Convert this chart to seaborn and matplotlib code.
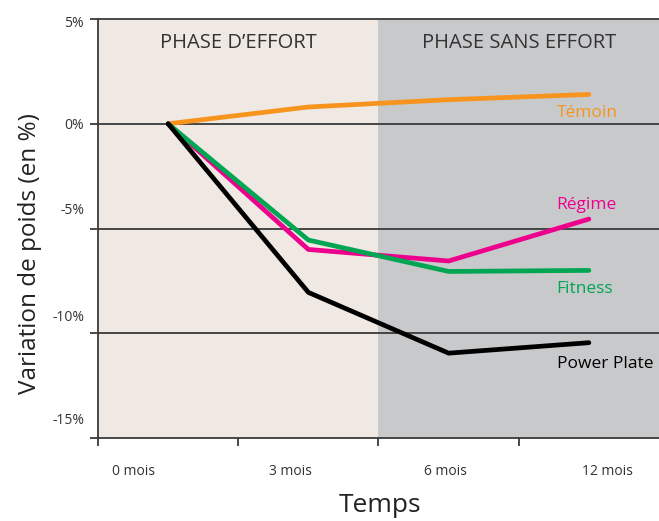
import numpy as np
import pandas as pd
import matplotlib.pyplot as plt
import matplotlib.transforms as mtransforms
import seaborn as sns

# Data
months = ["0 mois", "3 mois", "6 mois", "12 mois"]
temoin = [0.0, 0.8, 1.15, 1.4]
regime = [0.0, -6.0, -6.55, -4.55]
fitness = [0.0, -5.55, -7.05, -7.0]
power_plate = [0.0, -8.05, -10.95, -10.45]

groups = ["Témoin", "Régime", "Fitness", "Power Plate"]
colors = ["#F7941D", "#EC008C", "#00A651", "#000000"]

pos = np.arange(len(months)) + 0.5
df = pd.DataFrame({
    "pos": np.tile(pos, len(groups)),
    "value": temoin + regime + fitness + power_plate,
    "group": np.repeat(groups, len(months)),
})

sns.set_style("white")
plt.rcParams["font.family"] = ["Open Sans", "DejaVu Sans"]

fig = plt.figure(figsize=(6.59, 5.21), dpi=100)
ax = fig.add_axes([0.1487, 0.1593, 0.8513, 0.8042])

# phase backgrounds
ax.axvspan(0, 2, color="#EFE8E3", zorder=0, lw=0)
ax.axvspan(2, 4, color="#C8C9CB", zorder=0, lw=0)
for y in [0, -5, -10]:
    ax.axhline(y, color="#3a3a3a", lw=1.3, zorder=1)

sns.lineplot(data=df, x="pos", y="value", hue="group", hue_order=groups,
             palette=colors, lw=3.4, legend=False, ax=ax, zorder=3)

ax.set_xlim(0, 4)
ax.set_ylim(-15, 5)

# y ticks (labels nudged like the reference)
ax.set_yticks([5, 0, -5, -10, -15])
ax.set_yticklabels(["5%", "0%", "-5%", "-10%", "-15%"])
ax.tick_params(axis="y", direction="out", length=6, width=1.3, color="#3a3a3a",
               labelsize=10, labelcolor="#333333", pad=4, left=True)
shifts = [-2, 0, 20, 18, 20]  # pixels
for lab, s in zip(ax.get_yticklabels(), shifts):
    lab.set_transform(lab.get_transform() +
                      mtransforms.ScaledTranslation(0, s / fig.dpi, fig.dpi_scale_trans))

# x ticks: marks at boundaries, labels offset
ax.set_xticks([0, 1, 2, 3])
ax.set_xticklabels([])
ax.set_xticks([0.25, 1.37, 2.48, 3.63], minor=True)
ax.set_xticklabels(months, minor=True)
ax.tick_params(axis="x", which="major", direction="out", length=6, width=1.3,
               color="#3a3a3a", bottom=True)
ax.tick_params(axis="x", which="minor", length=0, labelsize=10,
               labelcolor="#333333", pad=19)

for side in ["left", "bottom", "top"]:
    ax.spines[side].set_color("#3a3a3a")
    ax.spines[side].set_linewidth(1.3)
ax.spines["right"].set_visible(False)

ax.set_xlabel("Temps", fontsize=19, color="#222222")
ax.set_ylabel("Variation de poids (en %)", fontsize=17.5, color="#222222")
ax.xaxis.set_label_coords(0.502, -0.132)
ax.yaxis.set_label_coords(-0.099, 0.44)

# phase titles
ax.text(1.0, 3.85, "PHASE D\u2019EFFORT", ha="center", va="center",
        fontsize=14.5, color="#333333")
ax.text(3.0, 3.85, "PHASE SANS EFFORT", ha="center", va="center",
        fontsize=14.5, color="#333333")

# series labels
label_y = [0.5, -3.9, -7.9, -11.45]
for g, c, y in zip(groups, colors, label_y):
    ax.text(3.27, y, g, ha="left", va="center", fontsize=12.5, color=c)

fig.savefig("out.png", dpi=100)
